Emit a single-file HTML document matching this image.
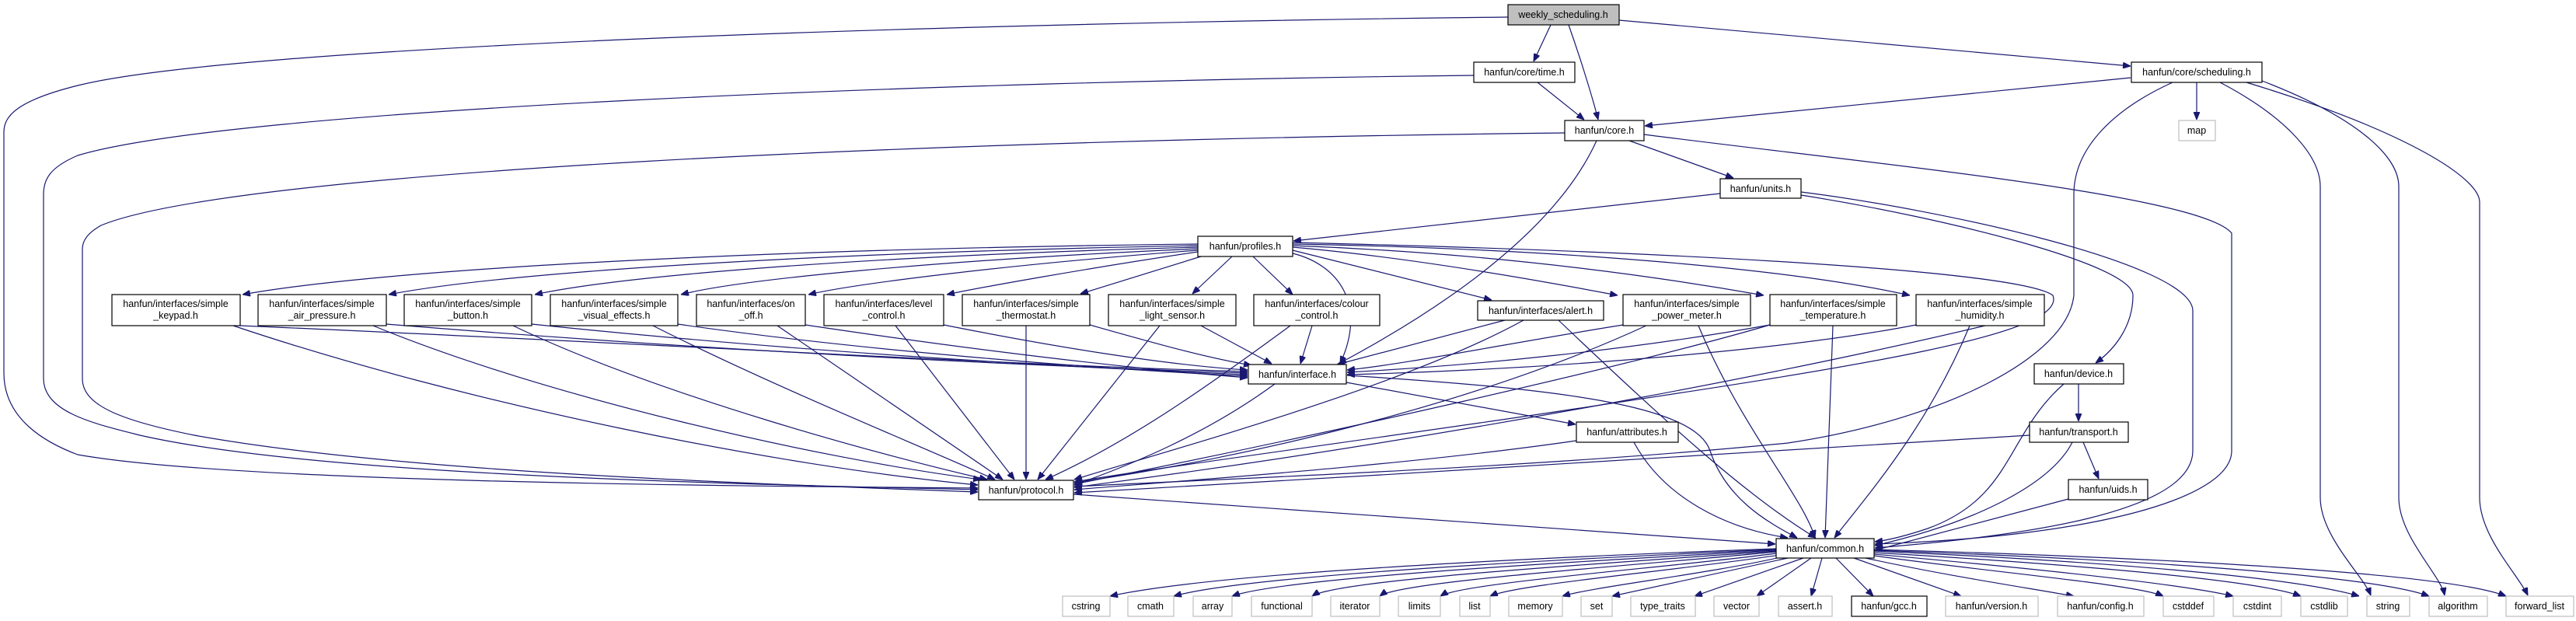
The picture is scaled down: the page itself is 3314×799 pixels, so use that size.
<!DOCTYPE html>
<html><head><meta charset="utf-8"><style>
html,body{margin:0;padding:0;background:#fff;}
svg{display:block;}
text{font-family:"Liberation Sans",Arial,sans-serif;font-size:12.5px;fill:#000;text-anchor:middle;}
.e{fill:none;stroke:#191970;stroke-width:1.2;marker-end:url(#a);}
.n{fill:#fff;stroke:#000;stroke-width:1.2;}
.g{fill:#fff;stroke:#bfbfbf;stroke-width:1.2;}
</style></head><body>
<svg width="3314" height="799" viewBox="0 0 3314 799" xmlns="http://www.w3.org/2000/svg">
<defs><marker id="a" viewBox="0 0 10 8" refX="10" refY="4" markerWidth="10" markerHeight="8" markerUnits="userSpaceOnUse" orient="auto"><path d="M0,0 L10,4 L0,8 z" fill="#191970" stroke="#191970"/></marker></defs>

<!-- edges -->
<path class="e" d="M1995,32 L1973,79"/>
<path class="e" d="M2018,32 C2035,80 2050,130 2056,154"/>
<path class="e" d="M2083,26 L2741,85"/>
<path class="e" d="M1940,22 C1200,30 300,60 100,110 C20,130 5,150 5,170 L5,480 C5,540 60,570 100,585 C300,620 900,625 1258,628"/>
<path class="e" d="M1978,106 L2038,154"/>
<path class="e" d="M1896,97 C1200,105 300,140 100,200 C65,215 56,230 56,250 L56,487 C56,530 120,545 180,560 C400,610 900,622 1258,630"/>
<path class="e" d="M2013,171 C1200,180 300,220 130,290 C112,300 106,310 106,320 L106,487 C106,520 150,540 250,560 C500,605 900,620 1258,633"/>
<path class="e" d="M2741,100 L2116,162"/>
<path class="e" d="M2826,106 L2826,154"/>
<path class="e" d="M2856,106 C2940,150 2985,200 2985,240 L2985,640 C2985,690 3040,740 3050,766"/>
<path class="e" d="M2910,104 C3030,150 3086,200 3086,240 L3086,640 C3086,690 3140,740 3145,766"/>
<path class="e" d="M2890,106 C3100,170 3190,230 3190,260 L3190,640 C3190,690 3240,740 3252,766"/>
<path class="e" d="M2795,106 C2720,140 2668,190 2668,250 L2668,380 C2660,460 2500,540 2300,570 C2000,600 1600,615 1382,626"/>
<path class="e" d="M2096,181 L2230,229"/>
<path class="e" d="M2115,173 C2400,210 2830,250 2871,300 L2871,580 C2871,640 2700,690 2412,700"/>
<path class="e" d="M2054,181 C2000,300 1850,400 1722,468"/>
<path class="e" d="M2213,249 L1664,310"/>
<path class="e" d="M2317,251 C2500,280 2744,340 2744,380 C2744,420 2720,450 2696,467"/>
<path class="e" d="M2317,247 C2500,270 2821,340 2821,400 L2821,580 C2821,660 2600,690 2412,705"/>
<!-- profiles -> interface boxes -->
<path class="e" d="M1541,314 C1000,320 500,345 312,379"/>
<path class="e" d="M1541,316 C1050,325 650,350 500,379"/>
<path class="e" d="M1541,318 C1100,330 800,355 688,379"/>
<path class="e" d="M1541,320 C1200,335 950,360 876,379"/>
<path class="e" d="M1541,322 C1300,340 1100,365 1040,379"/>
<path class="e" d="M1541,324 C1400,345 1260,370 1218,379"/>
<path class="e" d="M1545,330 L1390,378"/>
<path class="e" d="M1585,330 L1534,378"/>
<path class="e" d="M1612,330 L1663,379"/>
<path class="e" d="M1663,322 L1919,386"/>
<path class="e" d="M1663,318 C1800,330 1950,355 2081,380"/>
<path class="e" d="M1663,316 C1900,325 2100,350 2269,380"/>
<path class="e" d="M1663,314 C2000,320 2300,345 2457,380"/>
<path class="e" d="M1663,326 C1720,340 1760,390 1724,468"/>
<path class="e" d="M1663,312 C2200,325 2600,350 2641,380 C2660,430 2400,470 2000,530 C1800,560 1500,600 1382,620"/>
<!-- interface boxes -> interface.h -->
<path class="e" d="M309,419 C800,440 1300,470 1605,478"/>
<path class="e" d="M497,417 C900,450 1300,470 1605,480"/>
<path class="e" d="M684,417 C1000,450 1350,472 1605,482"/>
<path class="e" d="M872,417 C1100,450 1400,474 1605,484"/>
<path class="e" d="M1036,418 C1250,450 1450,474 1605,486"/>
<path class="e" d="M1214,418 C1350,445 1500,470 1605,476"/>
<path class="e" d="M1402,418 C1480,440 1550,460 1610,470"/>
<path class="e" d="M1545,419 L1636,468"/>
<path class="e" d="M1688,419 L1673,468"/>
<path class="e" d="M1936,412 L1720,469"/>
<path class="e" d="M2088,418 C1950,440 1800,470 1733,476"/>
<path class="e" d="M2277,418 C2100,450 1900,470 1733,479"/>
<path class="e" d="M2465,418 C2300,450 2000,475 1733,482"/>
<!-- interface boxes -> protocol.h -->
<path class="e" d="M300,419 C600,520 1000,600 1258,624"/>
<path class="e" d="M480,419 C700,510 1050,590 1262,617"/>
<path class="e" d="M660,419 C850,510 1150,590 1270,617"/>
<path class="e" d="M840,419 C1000,500 1200,580 1280,617"/>
<path class="e" d="M1000,419 L1290,617"/>
<path class="e" d="M1152,419 L1305,617"/>
<path class="e" d="M1320,419 L1320,617"/>
<path class="e" d="M1492,419 L1335,617"/>
<path class="e" d="M1660,419 C1550,500 1450,570 1345,617"/>
<path class="e" d="M1960,412 C1800,500 1500,580 1382,617"/>
<path class="e" d="M2120,418 C1900,520 1600,590 1382,621"/>
<path class="e" d="M2277,418 C2100,470 1700,560 1382,623"/>
<path class="e" d="M2630,400 C2400,460 1900,560 1382,627"/>
<!-- -> common top -->
<path class="e" d="M2005,412 C2150,550 2250,640 2336,692"/>
<path class="e" d="M2185,419 C2240,550 2320,640 2335,692"/>
<path class="e" d="M2358,419 L2348,692"/>
<path class="e" d="M2534,419 C2480,550 2400,640 2360,692"/>
<!-- interface/attributes/etc -->
<path class="e" d="M1732,492 L2027,546"/>
<path class="e" d="M1640,494 C1550,560 1450,600 1382,624"/>
<path class="e" d="M1733,483 C2000,500 2180,520 2200,580 C2220,640 2270,670 2312,692"/>
<path class="e" d="M2028,567 C1800,600 1500,620 1382,630"/>
<path class="e" d="M2102,569 C2140,640 2220,680 2300,692"/>
<path class="e" d="M2674,494 L2674,542"/>
<path class="e" d="M2655,494 C2580,560 2590,640 2480,680 C2450,690 2430,695 2412,697"/>
<path class="e" d="M2680,569 L2700,616"/>
<path class="e" d="M2611,560 C2300,580 1800,610 1382,634"/>
<path class="e" d="M2666,569 C2640,620 2550,670 2412,702"/>
<path class="e" d="M2661,642 L2412,708"/>
<path class="e" d="M1381,636 L2284,700"/>
<!-- common -> bottom -->
<path class="e" d="M2285,706 C1900,720 1550,740 1428,767"/>
<path class="e" d="M2285,707 C1950,722 1600,742 1510,767"/>
<path class="e" d="M2285,708 C2000,724 1650,744 1585,767"/>
<path class="e" d="M2285,709 C2050,726 1720,746 1688,767"/>
<path class="e" d="M2285,710 C2100,728 1800,748 1775,767"/>
<path class="e" d="M2285,712 C2150,730 1880,750 1853,767"/>
<path class="e" d="M2290,714 C2150,735 1950,752 1917,767"/>
<path class="e" d="M2295,716 C2200,738 2050,755 2010,767"/>
<path class="e" d="M2300,718 L2074,767"/>
<path class="e" d="M2320,718 L2180,767"/>
<path class="e" d="M2330,718 L2260,767"/>
<path class="e" d="M2344,718 L2330,767"/>
<path class="e" d="M2362,718 L2410,767"/>
<path class="e" d="M2385,718 L2523,767"/>
<path class="e" d="M2400,718 C2500,740 2600,755 2668,767"/>
<path class="e" d="M2411,715 C2550,735 2750,752 2783,767"/>
<path class="e" d="M2411,713 C2600,730 2800,750 2873,767"/>
<path class="e" d="M2411,711 C2650,725 2900,745 2960,767"/>
<path class="e" d="M2411,709 C2700,722 2950,742 3035,767"/>
<path class="e" d="M2411,708 C2750,720 3050,740 3125,767"/>
<path class="e" d="M2411,707 C2800,718 3150,738 3224,767"/>

<!-- nodes -->
<rect x="1940" y="6" width="143" height="26" fill="#bfbfbf" stroke="#000" stroke-width="1.2"/><text x="2011" y="23">weekly_scheduling.h</text>
<rect class="n" x="1896" y="80" width="130" height="26"/><text x="1961" y="97">hanfun/core/time.h</text>
<rect class="n" x="2742" y="80" width="168" height="26"/><text x="2826" y="97">hanfun/core/scheduling.h</text>
<rect class="n" x="2013" y="155" width="102" height="26"/><text x="2064" y="172">hanfun/core.h</text>
<rect class="g" x="2803" y="155" width="47" height="26"/><text x="2826" y="172">map</text>
<rect class="n" x="2213" y="230" width="104" height="25"/><text x="2265" y="247">hanfun/units.h</text>
<rect class="n" x="1541" y="304" width="122" height="26"/><text x="1602" y="321">hanfun/profiles.h</text>

<rect class="n" x="144" y="379" width="165" height="40"/><text x="226" y="395">hanfun/interfaces/simple</text><text x="226" y="410">_keypad.h</text>
<rect class="n" x="332" y="379" width="165" height="40"/><text x="414" y="395">hanfun/interfaces/simple</text><text x="414" y="410">_air_pressure.h</text>
<rect class="n" x="520" y="379" width="164" height="40"/><text x="602" y="395">hanfun/interfaces/simple</text><text x="602" y="410">_button.h</text>
<rect class="n" x="708" y="379" width="164" height="40"/><text x="790" y="395">hanfun/interfaces/simple</text><text x="790" y="410">_visual_effects.h</text>
<rect class="n" x="896" y="379" width="140" height="40"/><text x="966" y="395">hanfun/interfaces/on</text><text x="966" y="410">_off.h</text>
<rect class="n" x="1060" y="379" width="154" height="40"/><text x="1137" y="395">hanfun/interfaces/level</text><text x="1137" y="410">_control.h</text>
<rect class="n" x="1238" y="379" width="164" height="40"/><text x="1320" y="395">hanfun/interfaces/simple</text><text x="1320" y="410">_thermostat.h</text>
<rect class="n" x="1426" y="379" width="164" height="40"/><text x="1508" y="395">hanfun/interfaces/simple</text><text x="1508" y="410">_light_sensor.h</text>
<rect class="n" x="1613" y="379" width="162" height="40"/><text x="1694" y="395">hanfun/interfaces/colour</text><text x="1694" y="410">_control.h</text>
<rect class="n" x="1901" y="387" width="162" height="25"/><text x="1982" y="404">hanfun/interfaces/alert.h</text>
<rect class="n" x="2088" y="379" width="164" height="40"/><text x="2170" y="395">hanfun/interfaces/simple</text><text x="2170" y="410">_power_meter.h</text>
<rect class="n" x="2277" y="379" width="163" height="40"/><text x="2358" y="395">hanfun/interfaces/simple</text><text x="2358" y="410">_temperature.h</text>
<rect class="n" x="2465" y="379" width="165" height="40"/><text x="2547" y="395">hanfun/interfaces/simple</text><text x="2547" y="410">_humidity.h</text>

<rect class="n" x="1606" y="469" width="126" height="25"/><text x="1669" y="486">hanfun/interface.h</text>
<rect class="n" x="2617" y="468" width="115" height="26"/><text x="2674" y="485">hanfun/device.h</text>
<rect class="n" x="2028" y="543" width="131" height="26"/><text x="2093" y="560">hanfun/attributes.h</text>
<rect class="n" x="2611" y="543" width="127" height="26"/><text x="2674" y="560">hanfun/transport.h</text>
<rect class="n" x="1259" y="618" width="122" height="25"/><text x="1320" y="635">hanfun/protocol.h</text>
<rect class="n" x="2661" y="617" width="102" height="26"/><text x="2712" y="634">hanfun/uids.h</text>
<rect class="n" x="2285" y="693" width="126" height="25"/><text x="2348" y="710">hanfun/common.h</text>

<rect class="g" x="1367" y="767" width="61" height="26"/><text x="1397" y="784">cstring</text>
<rect class="g" x="1451" y="767" width="59" height="26"/><text x="1480" y="784">cmath</text>
<rect class="g" x="1535" y="767" width="50" height="26"/><text x="1560" y="784">array</text>
<rect class="g" x="1610" y="767" width="78" height="26"/><text x="1649" y="784">functional</text>
<rect class="g" x="1712" y="767" width="63" height="26"/><text x="1743" y="784">iterator</text>
<rect class="g" x="1799" y="767" width="54" height="26"/><text x="1826" y="784">limits</text>
<rect class="g" x="1878" y="767" width="39" height="26"/><text x="1897" y="784">list</text>
<rect class="g" x="1941" y="767" width="69" height="26"/><text x="1975" y="784">memory</text>
<rect class="g" x="2034" y="767" width="40" height="26"/><text x="2054" y="784">set</text>
<rect class="g" x="2098" y="767" width="83" height="26"/><text x="2139" y="784">type_traits</text>
<rect class="g" x="2205" y="767" width="58" height="26"/><text x="2234" y="784">vector</text>
<rect class="g" x="2288" y="767" width="69" height="26"/><text x="2322" y="784">assert.h</text>
<rect class="n" x="2382" y="767" width="97" height="26"/><text x="2430" y="784">hanfun/gcc.h</text>
<rect class="g" x="2503" y="767" width="119" height="26"/><text x="2562" y="784">hanfun/version.h</text>
<rect class="g" x="2647" y="767" width="111" height="26"/><text x="2702" y="784">hanfun/config.h</text>
<rect class="g" x="2783" y="767" width="65" height="26"/><text x="2815" y="784">cstddef</text>
<rect class="g" x="2873" y="767" width="62" height="26"/><text x="2904" y="784">cstdint</text>
<rect class="g" x="2960" y="767" width="60" height="26"/><text x="2990" y="784">cstdlib</text>
<rect class="g" x="3045" y="767" width="55" height="26"/><text x="3072" y="784">string</text>
<rect class="g" x="3125" y="767" width="75" height="26"/><text x="3162" y="784">algorithm</text>
<rect class="g" x="3224" y="767" width="87" height="26"/><text x="3267" y="784">forward_list</text>
</svg>
</body></html>
